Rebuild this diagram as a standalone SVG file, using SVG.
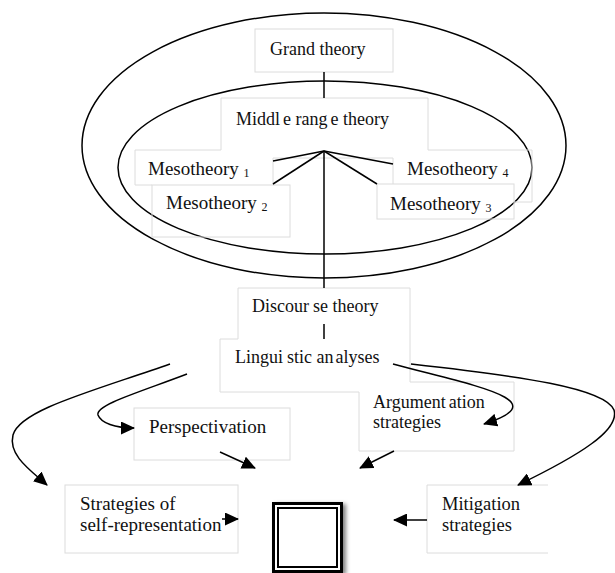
<svg xmlns="http://www.w3.org/2000/svg" width="615" height="573" viewBox="0 0 615 573">
<style>
.frame{fill:none;stroke:#dcdcdc;stroke-width:1}
.t{font-family:"Liberation Serif","Times New Roman",serif;font-size:18px;fill:#111}
.b{font-size:19px}
.sub{font-size:12px}
.ln{fill:none;stroke:#000;stroke-width:1.5}
.ell{fill:none;stroke:#000;stroke-width:1.5}
</style>
<defs>
<marker id="ah" viewBox="0 0 14 13" refX="13" refY="6.5" markerWidth="14" markerHeight="13" markerUnits="userSpaceOnUse" orient="auto">
<path d="M0,0 L14,6.5 L0,13 z" fill="#000"/>
</marker>
<filter id="sh" x="-20%" y="-20%" width="150%" height="150%">
<feDropShadow dx="3" dy="2" stdDeviation="2" flood-color="#000" flood-opacity="0.5"/>
</filter>
</defs>

<g id="scopes">
<ellipse class="ell" cx="324" cy="145.5" rx="242" ry="132.5"/>
<ellipse class="ell" cx="325" cy="167.5" rx="207" ry="86.5"/>
</g>

<g id="grand-theory">
<rect class="frame" x="255" y="29" width="138" height="43"/>
<text class="t" x="270" y="55">Grand theory</text>
</g>

<g id="middle-range-theory">
<path class="frame" d="M221,150 V98 H428 V150"/>
<text class="t" x="236" y="125">Middl<tspan dx="3">e</tspan> rang<tspan dx="3">e</tspan> theory</text>
</g>

<g id="meso-frame">
<path class="frame" d="M273,185 V158 H393 V184"/>
</g>

<g id="mesotheory1">
<path class="frame" d="M152,185 H135 V150 H221"/>
<text class="t b" x="148" y="175">Mesotheory <tspan class="sub" dy="2">1</tspan></text>
</g>

<g id="mesotheory2">
<rect class="frame" x="152" y="185" width="138" height="52"/>
<text class="t b" x="166" y="209">Mesotheory <tspan class="sub" dy="2">2</tspan></text>
</g>

<g id="mesotheory4">
<path class="frame" d="M428,150 H532 V202 H514"/>
<text class="t b" x="407" y="175">Mesotheory <tspan class="sub" dy="2">4</tspan></text>
</g>

<g id="mesotheory3">
<rect class="frame" x="377" y="184" width="137" height="35"/>
<text class="t b" x="390" y="210">Mesotheory <tspan class="sub" dy="2">3</tspan></text>
</g>

<g id="discourse-theory">
<path class="frame" d="M238,339 V288 H410 V382"/>
<text class="t" x="252" y="312">Discour<tspan dx="4">se</tspan> theory</text>
</g>

<g id="linguistic-analyses">
<path class="frame" d="M238,339 H220 V392 H359"/>
<text class="t" x="235" y="363">Lingui<tspan dx="4">stic</tspan> an<tspan dx="2">alyses</tspan></text>
</g>

<g id="perspectivation">
<rect class="frame" x="134" y="408" width="156" height="52"/>
<text class="t b" x="149" y="433">Perspectivation</text>
</g>

<g id="argumentation-strategies">
<path class="frame" d="M410,382 H514 V451 H359 V392"/>
<text class="t" x="373" y="408">Argument<tspan dx="3">ation</tspan></text>
<text class="t" x="373" y="428">strategies</text>
</g>

<g id="self-representation">
<rect class="frame" x="65" y="485" width="173" height="68"/>
<text class="t b" x="80" y="510">Strategies of</text>
<text class="t b" x="80" y="531">self-representation</text>
</g>

<g id="mitigation-strategies">
<path class="frame" d="M548,485 H427 V553 H548"/>
<text class="t" x="442" y="510" style="font-size:18.5px">Mitigation</text>
<text class="t" x="442" y="531" style="font-size:18.5px">strategies</text>
</g>

<g id="target">
<rect x="273.5" y="503.5" width="68" height="68" fill="#fff" stroke="#000" stroke-width="3" filter="url(#sh)"/>
<rect x="278" y="508" width="59" height="59" fill="#fff" stroke="#000" stroke-width="2"/>
</g>

<g id="connectors">
<line class="ln" x1="324" y1="72" x2="324" y2="98"/>
<line class="ln" x1="324" y1="151" x2="273" y2="161"/>
<line class="ln" x1="324" y1="151" x2="273" y2="184"/>
<line class="ln" x1="324" y1="151" x2="393" y2="164"/>
<line class="ln" x1="324" y1="151" x2="377" y2="184"/>
<line class="ln" x1="324" y1="151" x2="324" y2="288"/>
<line class="ln" x1="324" y1="324" x2="324" y2="339"/>
<path class="ln" d="M170,364 C90,392 20,410 13,435 C8,455 30,470 47,485" marker-end="url(#ah)"/>
<path class="ln" d="M187,374 C140,392 95,405 98,415 C101,423 115,428 134,428" marker-end="url(#ah)"/>
<path class="ln" d="M393,364 C470,385 560,400 484,424" marker-end="url(#ah)"/>
<path class="ln" d="M411,364 C520,376 605,388 614,410 C620,430 580,455 518,485" marker-end="url(#ah)"/>
<line class="ln" x1="220" y1="452" x2="255" y2="468" marker-end="url(#ah)"/>
<line class="ln" x1="394" y1="451" x2="360" y2="468" marker-end="url(#ah)"/>
<line class="ln" x1="222" y1="519" x2="238" y2="519" marker-end="url(#ah)"/>
<line class="ln" x1="427" y1="520" x2="394" y2="520" marker-end="url(#ah)"/>
</g>
</svg>
